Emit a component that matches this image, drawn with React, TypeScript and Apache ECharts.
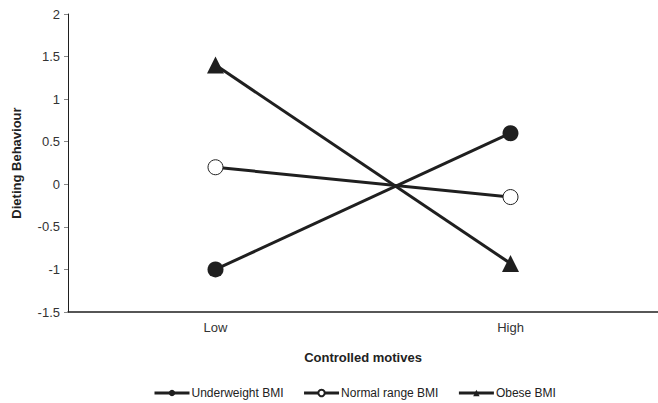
import React, { useEffect, useRef } from "react";
import * as echarts from "echarts";

const categories = ["Low", "High"];
const underweight = [-1, 0.6];
const normalRange = [0.2, -0.15];
const obese = [1.4, -0.93];
const yTicks = { min: -1.5, max: 2, interval: 0.5 };

export default function App() {
  const ref = useRef<HTMLDivElement>(null);
  useEffect(() => {
    const chart = echarts.init(ref.current!, null, { renderer: "svg" });
    const ink = "#1f1f1f";
    const font = "Liberation Sans, Arial, sans-serif";
    chart.setOption({
      animation: false,
      textStyle: { fontFamily: font },
      grid: { left: 68, right: 0, top: 14, bottom: 91 },
      legend: {
        left: 148,
        top: 382,
        itemWidth: 35,
        itemHeight: 8,
        itemGap: 19,
        lineStyle: { width: 3 },
        textStyle: { fontFamily: font, fontSize: 12, color: "#222", padding: [0, 0, 0, -3] },
        data: ["Underweight BMI", "Normal range BMI", "Obese BMI"],
      },
      xAxis: {
        type: "category",
        data: categories,
        name: "Controlled motives",
        nameLocation: "middle",
        nameGap: 39,
        nameTextStyle: { fontWeight: "bold", fontSize: 13, color: "#222", fontFamily: font },
        axisLine: { onZero: false, lineStyle: { color: ink, width: 1.5 } },
        axisTick: { alignWithLabel: true, length: 4, lineStyle: { color: "#999" } },
        axisLabel: { fontSize: 13, color: "#333", margin: 9, fontFamily: font },
      },
      yAxis: {
        type: "value",
        min: yTicks.min,
        max: yTicks.max,
        interval: yTicks.interval,
        name: "Dieting Behaviour",
        nameLocation: "middle",
        nameGap: 45,
        nameTextStyle: { fontWeight: "bold", fontSize: 13, color: "#222", fontFamily: font },
        splitLine: { show: false },
        axisLine: { show: true, lineStyle: { color: ink, width: 1 } },
        axisTick: { show: true, length: 4, lineStyle: { color: "#888" } },
        axisLabel: { fontSize: 13, color: "#333", margin: 8, fontFamily: font },
      },
      series: [
        {
          name: "Underweight BMI",
          type: "line",
          data: underweight,
          symbol: "circle",
          symbolSize: 16,
          lineStyle: { color: ink, width: 3 },
          itemStyle: { color: ink },
        },
        {
          name: "Normal range BMI",
          type: "line",
          data: normalRange,
          symbol: "circle",
          symbolSize: 15,
          lineStyle: { color: ink, width: 3 },
          itemStyle: { color: "#fff", borderColor: ink, borderWidth: 1 },
        },
        {
          name: "Obese BMI",
          type: "line",
          data: obese,
          symbol: "triangle",
          symbolSize: 17,
          lineStyle: { color: ink, width: 3 },
          itemStyle: { color: ink },
        },
      ],
    });
    return () => chart.dispose();
  }, []);
  return (
    <div
      ref={ref}
      style={{ position: "absolute", left: 0, top: 0, width: 658, height: 403 }}
    />
  );
}
